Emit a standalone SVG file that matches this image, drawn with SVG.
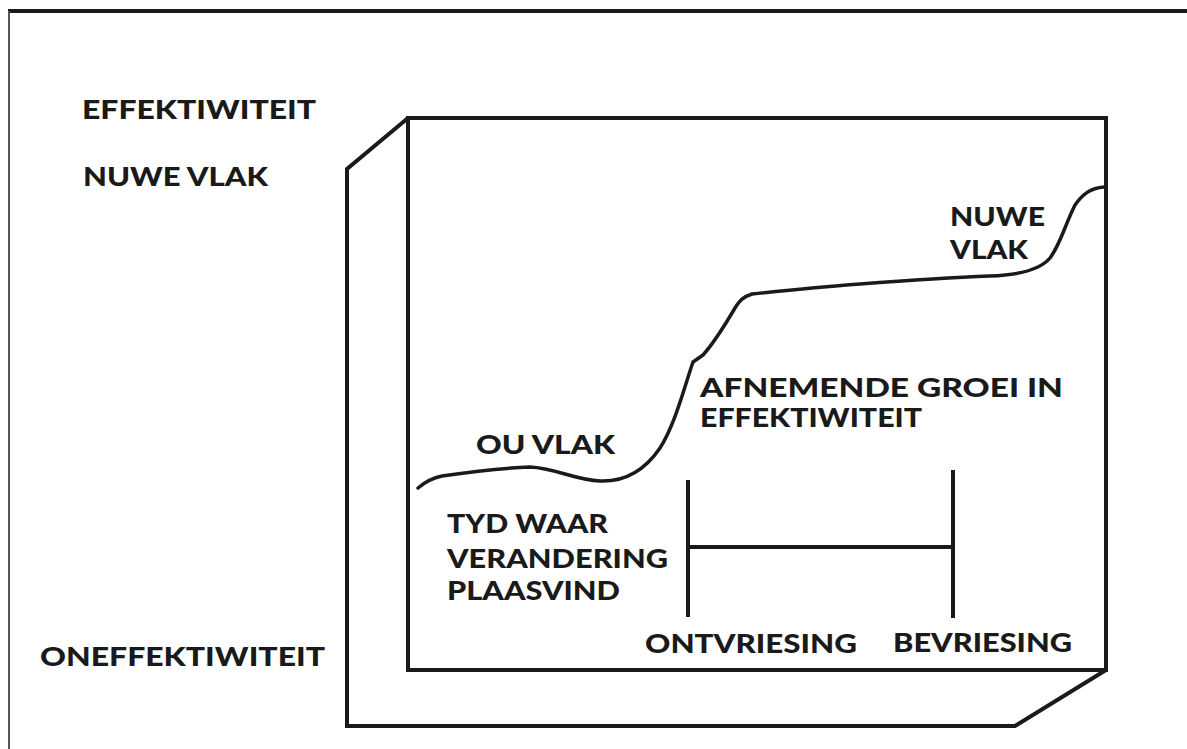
<svg xmlns="http://www.w3.org/2000/svg" width="1187" height="749" viewBox="0 0 1187 749">
<style>
.t{font-family:Lato,"Open Sans","DejaVu Sans",sans-serif;font-weight:900;font-size:27px;fill:#1a1a1a}
.ln{fill:none;stroke:#1a1a1a;stroke-width:4;stroke-linejoin:miter}
.cv{fill:none;stroke:#1a1a1a;stroke-width:3.5;stroke-linecap:round;stroke-linejoin:round}
</style>
<rect width="1187" height="749" fill="#fff"/>
<g id="frame">
<line x1="8" y1="11" x2="1187" y2="11" stroke="#1a1a1a" stroke-width="4"/>
<line x1="9" y1="11" x2="9" y2="749" stroke="#555" stroke-width="2"/>
</g>
<g id="box">
<rect class="ln" x="408" y="118" width="698" height="552"/>
<polyline class="ln" points="408,118 347,169 347,726 1015,726 1106,670"/>
</g>
<g id="axis-labels">
<text class="t" x="82" y="119" textLength="234" lengthAdjust="spacingAndGlyphs">EFFEKTIWITEIT</text>
<text class="t" x="83" y="186" textLength="185" lengthAdjust="spacingAndGlyphs">NUWE VLAK</text>
<text class="t" x="40" y="666" textLength="285" lengthAdjust="spacingAndGlyphs">ONEFFEKTIWITEIT</text>
</g>
<g id="connectors">
<path class="cv" d="M418,488 C425,482 432,478 442,476 C470,472 505,468 530,467 C555,468 575,480 600,481 C625,482 645,470 660,448 C675,425 685,385 693,362 L703,355 C712,345 725,325 735,308 C740,300 743,297 752,294 C790,290 820,287 860,284 C900,281 940,278 990,276 C1020,275 1040,270 1050,258 C1060,245 1065,225 1075,205 C1082,195 1090,188 1104,187"/>
<line class="ln" x1="688" y1="480" x2="688" y2="617"/>
<line class="ln" x1="953" y1="470" x2="953" y2="618"/>
<line class="ln" x1="688" y1="547" x2="953" y2="547"/>
</g>
<g id="curve-labels">
<text class="t" x="950" y="226" textLength="95" lengthAdjust="spacingAndGlyphs">NUWE</text>
<text class="t" x="950" y="259" textLength="78" lengthAdjust="spacingAndGlyphs">VLAK</text>
<text class="t" x="476" y="454" textLength="139" lengthAdjust="spacingAndGlyphs">OU VLAK</text>
<text class="t" x="700" y="397" textLength="363" lengthAdjust="spacingAndGlyphs">AFNEMENDE GROEI IN</text>
<text class="t" x="700" y="427" textLength="222" lengthAdjust="spacingAndGlyphs">EFFEKTIWITEIT</text>
</g>
<g id="time-labels">
<text class="t" x="447" y="533" textLength="161" lengthAdjust="spacingAndGlyphs">TYD WAAR</text>
<text class="t" x="447" y="568" textLength="221" lengthAdjust="spacingAndGlyphs">VERANDERING</text>
<text class="t" x="447" y="600" textLength="173" lengthAdjust="spacingAndGlyphs">PLAASVIND</text>
<text class="t" x="645" y="653" textLength="212" lengthAdjust="spacingAndGlyphs">ONTVRIESING</text>
<text class="t" x="893" y="652" textLength="179" lengthAdjust="spacingAndGlyphs">BEVRIESING</text>
</g>
</svg>
